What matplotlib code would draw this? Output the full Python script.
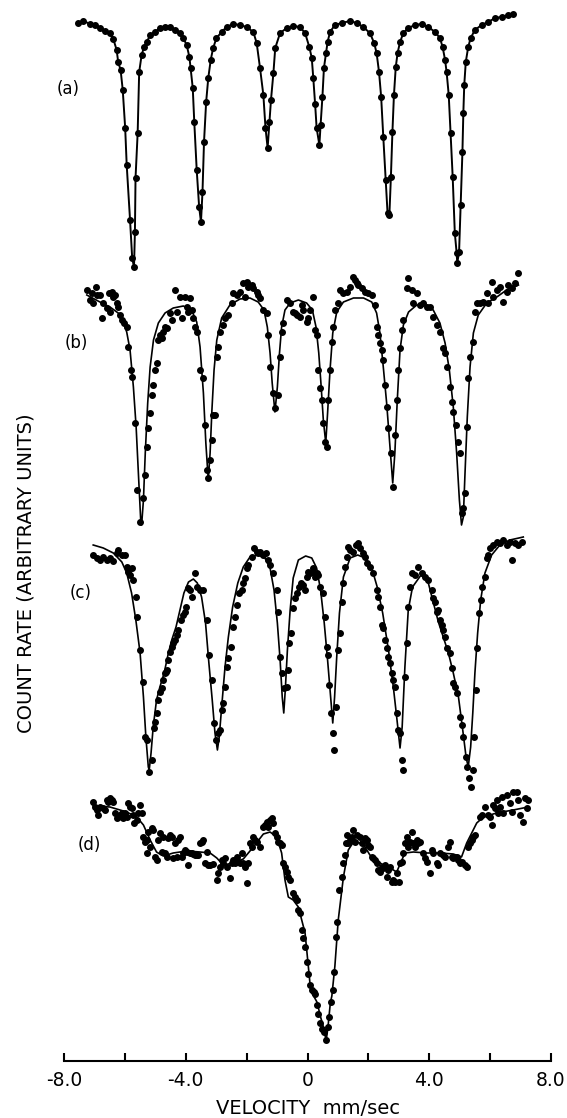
import numpy as np
import matplotlib
matplotlib.use("Agg")
import matplotlib.pyplot as plt

# Mossbauer spectra, velocity in mm/sec, count rate in arbitrary units
# (each spectrum carries its own vertical offset in the counts)

a_points = [(-7.53,1039),(-7.36,1041),(-7.14,1038),(-6.98,1037),(-6.82,1034),(-6.65,1031),(-6.49,1029),
            (-6.38,1023),(-6.27,1012),(-6.22,1000),(-6.14,992),(-6.07,972),(-5.99,934),(-5.94,897),
            (-5.83,842),(-5.76,804),(-5.70,795),(-5.67,830),(-5.65,884),(-5.58,929),(-5.53,990),
            (-5.45,1007),(-5.37,1015),(-5.28,1020),(-5.17,1027),(-5.01,1030),(-4.85,1034),(-4.68,1035),
            (-4.52,1035),(-4.35,1032),(-4.19,1029),(-4.08,1024),(-3.97,1017),(-3.88,1005),(-3.84,994),
            (-3.77,974),(-3.72,940),(-3.64,892),(-3.56,855),(-3.50,840),(-3.45,870),(-3.40,920),
            (-3.33,960),(-3.26,984),(-3.18,1002),(-3.10,1014),(-2.99,1024),(-2.82,1030),(-2.66,1035),
            (-2.44,1038),(-2.22,1037),(-2.00,1035),(-1.78,1030),(-1.67,1019),(-1.56,994),(-1.45,967),
            (-1.38,934),(-1.31,914),(-1.25,940),(-1.20,962),(-1.12,989),(-1.06,1014),(-0.90,1029),
            (-0.68,1034),(-0.47,1036),(-0.25,1035),(-0.08,1029),(0.06,1015),(0.14,1004),(0.19,984),
            (0.25,958),(0.30,934),(0.39,917),(0.43,937),(0.49,965),(0.54,994),(0.61,1009),(0.66,1020),
            (0.74,1030),(0.90,1037),(1.12,1039),(1.40,1041),(1.62,1039),(1.83,1035),(2.05,1029),
            (2.19,1019),(2.27,1009),(2.35,990),(2.42,965),(2.49,925),(2.57,882),(2.63,849),(2.69,847),
            (2.74,885),(2.79,930),(2.84,967),(2.90,995),(2.96,1009),(3.04,1020),(3.15,1029),(3.31,1034),
            (3.53,1037),(3.75,1038),(3.97,1035),(4.19,1030),(4.35,1024),(4.44,1015),(4.52,1002),
            (4.57,990),(4.64,967),(4.70,929),(4.77,885),(4.84,829),(4.90,809),(4.92,799),(4.98,810),
            (5.03,857),(5.09,910),(5.12,949),(5.15,977),(5.20,1000),(5.28,1015),(5.36,1024),(5.50,1032),
            (5.72,1037),(5.94,1040),(6.16,1044),(6.38,1045),(6.60,1047),(6.76,1048)]

b_points = [(-7.25,772),(-7.14,762),(-7.09,769),(-7.04,759),(-6.95,775),(-6.90,767),(-6.82,767),(-6.76,744),
            (-6.71,759),(-6.60,754),(-6.51,769),(-6.49,750),(-6.43,770),(-6.38,765),(-6.32,767),(-6.27,759),
            (-6.21,755),(-6.16,747),(-6.10,742),(-6.03,739),(-5.94,735),(-5.89,715),(-5.81,692),(-5.78,685),
            (-5.67,639),(-5.59,572),(-5.50,540),(-5.42,564),(-5.34,587),(-5.26,615),(-5.23,634),(-5.17,649),
            (-5.12,667),(-5.09,677),(-5.01,692),(-4.96,699),(-4.90,722),(-4.85,727),(-4.79,724),(-4.74,730),
            (-4.68,735),(-4.63,734),(-4.52,749),(-4.46,742),(-4.35,772),(-4.30,750),(-4.19,765),(-4.13,744),
            (-4.02,765),(-3.97,755),(-3.92,750),(-3.86,764),(-3.81,752),(-3.75,744),(-3.70,735),(-3.64,730),
            (-3.53,692),(-3.42,684),(-3.37,637),(-3.31,592),(-3.26,584),(-3.20,602),(-3.15,622),(-3.09,647),
            (-3.04,647),(-2.98,705),(-2.93,715),(-2.87,730),(-2.79,737),(-2.71,744),(-2.60,747),(-2.49,759),
            (-2.44,769),(-2.33,767),(-2.22,770),(-2.11,779),(-2.05,765),(-2.00,780),(-1.95,775),(-1.83,777),
            (-1.78,774),(-1.67,770),(-1.62,767),(-1.56,764),(-1.45,752),(-1.34,749),(-1.29,727),(-1.23,695),
            (-1.12,669),(-1.07,654),(-0.96,667),(-0.90,705),(-0.85,730),(-0.79,739),(-0.68,762),(-0.57,759),
            (-0.47,750),(-0.41,749),(-0.36,747),(-0.25,745),(-0.19,757),(-0.14,752),(-0.03,740),(0.03,744),
            (0.08,752),(0.19,765),(0.25,732),(0.30,727),(0.36,692),(0.41,674),(0.47,662),(0.52,639),
            (0.57,620),(0.63,615),(0.68,662),(0.74,692),(0.79,720),(0.85,735),(0.90,752),(1.01,759),
            (1.07,772),(1.18,769),(1.29,770),(1.40,775),(1.51,785),(1.56,782),(1.62,779),(1.67,777),
            (1.78,774),(1.89,770),(2.00,769),(2.11,767),(2.22,757),(2.27,735),(2.33,727),(2.38,719),
            (2.44,712),(2.49,702),(2.55,677),(2.60,655),(2.66,634),(2.73,609),(2.80,575),(2.87,627),
            (2.93,662),(2.98,692),(3.04,714),(3.09,732),(3.15,742),(3.26,774),(3.31,784),(3.42,772),
            (3.48,759),(3.59,769),(3.70,757),(3.81,759),(3.91,755),(4.02,755),(4.13,745),(4.24,737),
            (4.35,730),(4.46,714),(4.52,709),(4.57,695),(4.68,675),(4.74,660),(4.79,650),(4.88,637),
            (4.96,620),(5.01,609),(5.06,549),(5.12,554),(5.17,569),(5.23,635),(5.28,684),(5.34,705),
            (5.45,720),(5.50,750),(5.56,759),(5.67,759),(5.78,760),(5.89,769),(5.94,759),(6.05,780),
            (6.10,765),(6.21,772),(6.32,775),(6.43,760),(6.54,770),(6.60,777),(6.71,774),(6.82,779),
            (6.93,789)]

b_fit = [(-7.25,767),(-6.82,760),(-6.49,755),(-6.22,749),(-6.05,740),(-5.94,730),(-5.83,712),(-5.72,675),
         (-5.63,635),(-5.55,585),(-5.48,542),(-5.45,537),(-5.39,562),(-5.33,609),(-5.25,659),(-5.17,695),
         (-5.06,722),(-4.90,739),(-4.68,749),(-4.41,754),(-4.08,756),(-3.81,752),(-3.64,740),(-3.53,715),
         (-3.42,669),(-3.34,619),(-3.26,582),(-3.20,609),(-3.14,652),(-3.07,692),(-2.98,722),(-2.82,744),
         (-2.55,757),(-2.22,763),(-1.89,764),(-1.62,760),(-1.43,752),(-1.32,735),(-1.23,709),(-1.16,679),
         (-1.07,650),(-0.99,675),(-0.92,709),(-0.85,735),(-0.74,752),(-0.57,759),(-0.30,762),(-0.03,759),
         (0.16,752),(0.28,735),(0.37,709),(0.45,675),(0.52,642),(0.60,619),(0.66,649),(0.74,692),
         (0.83,729),(0.96,750),(1.18,760),(1.51,764),(1.84,764),(2.11,760),(2.27,749),(2.38,729),
         (2.49,695),(2.60,659),(2.71,615),(2.80,579),(2.87,609),(2.95,662),(3.04,712),(3.15,737),
         (3.32,750),(3.59,757),(3.86,757),(4.13,752),(4.35,739),(4.52,719),(4.66,692),(4.79,655),
         (4.90,609),(4.99,562),(5.06,537),(5.12,545),(5.17,585),(5.25,645),(5.34,695),(5.45,729),
         (5.61,747),(5.89,759),(6.22,765),(6.54,772),(6.93,777)]

c_points = [(-7.04,507),(-6.93,504),(-6.82,502),(-6.71,505),(-6.60,502),(-6.49,504),(-6.38,501),(-6.27,509),
            (-6.21,512),(-6.10,507),(-6.00,507),(-5.94,495),(-5.89,490),(-5.83,487),(-5.78,494),(-5.72,482),
            (-5.63,465),(-5.59,445),(-5.50,412),(-5.41,380),(-5.34,325),(-5.26,322),(-5.20,290),(-5.12,302),
            (-5.04,334),(-5.01,340),(-4.96,349),(-4.90,362),(-4.85,370),(-4.79,374),(-4.74,382),(-4.68,389),
            (-4.65,390),(-4.60,392),(-4.57,402),(-4.52,410),(-4.46,415),(-4.41,419),(-4.35,422),(-4.30,427),
            (-4.24,432),(-4.17,442),(-4.10,447),(-4.02,450),(-3.99,455),(-3.91,474),(-3.86,472),(-3.81,465),
            (-3.70,489),(-3.62,475),(-3.53,472),(-3.42,472),(-3.31,442),(-3.22,407),(-3.15,382),(-3.07,339),
            (-3.01,322),(-2.93,329),(-2.87,332),(-2.82,352),(-2.76,359),(-2.71,375),(-2.66,395),(-2.60,404),
            (-2.52,415),(-2.44,435),(-2.38,445),(-2.33,457),(-2.24,469),(-2.16,472),(-2.11,479),(-2.05,484),
            (-2.00,494),(-1.95,497),(-1.83,505),(-1.76,514),(-1.67,510),(-1.62,509),(-1.56,510),(-1.45,507),
            (-1.36,509),(-1.29,502),(-1.23,497),(-1.12,489),(-1.01,472),(-0.96,450),(-0.90,405),(-0.85,389),
            (-0.77,374),(-0.68,375),(-0.63,392),(-0.60,419),(-0.55,429),(-0.47,454),(-0.41,464),(-0.33,469),
            (-0.27,475),(-0.22,479),(-0.16,477),(-0.08,472),(-0.03,485),(0.03,490),(0.08,489),(0.14,490),
            (0.19,494),(0.25,485),(0.30,489),(0.36,487),(0.41,475),(0.52,469),(0.57,445),(0.63,415),
            (0.68,407),(0.72,377),(0.76,349),(0.83,329),(0.87,312),(0.94,355),(1.01,412),(1.07,429),
            (1.12,460),(1.18,479),(1.23,495),(1.29,505),(1.34,515),(1.40,512),(1.51,510),(1.59,517),
            (1.67,519),(1.72,514),(1.83,509),(1.89,505),(1.94,499),(2.05,495),(2.16,489),(2.27,472),
            (2.33,465),(2.38,455),(2.44,437),(2.49,434),(2.55,422),(2.60,414),(2.66,405),(2.71,399),
            (2.77,389),(2.82,382),(2.87,375),(2.93,349),(2.98,332),(3.04,329),(3.09,302),(3.13,292),
            (3.20,385),(3.26,419),(3.31,455),(3.37,475),(3.42,489),(3.53,487),(3.64,495),(3.75,489),
            (3.86,485),(3.97,482),(4.08,472),(4.13,464),(4.19,460),(4.24,450),(4.30,452),(4.35,442),
            (4.41,437),(4.46,432),(4.52,425),(4.57,414),(4.68,409),(4.74,394),(4.79,379),(4.85,375),
            (4.90,369),(5.01,345),(5.06,337),(5.12,325),(5.21,305),(5.25,295),(5.32,284),(5.36,275),
            (5.43,292),(5.47,325),(5.54,372),(5.58,414),(5.62,449),(5.69,462),(5.72,475),(5.83,485),
            (5.89,504),(5.94,507),(6.00,514),(6.10,517),(6.21,520),(6.32,519),(6.43,522),(6.54,517),
            (6.65,520),(6.71,502),(6.82,519),(6.93,517),(7.04,520)]

c_fit = [(-7.04,517),(-6.71,514),(-6.38,509),(-6.10,500),(-5.94,489),(-5.78,469),(-5.64,442),(-5.50,409),
         (-5.39,365),(-5.31,325),(-5.23,295),(-5.20,292),(-5.14,309),(-5.07,335),(-4.96,362),(-4.85,375),
         (-4.71,389),(-4.57,409),(-4.46,422),(-4.32,435),(-4.19,452),(-4.06,469),(-3.91,480),(-3.75,483),
         (-3.62,479),(-3.48,465),(-3.35,439),(-3.24,399),(-3.13,362),(-3.04,329),(-2.96,312),(-2.90,325),
         (-2.82,355),(-2.71,395),(-2.60,425),(-2.46,455),(-2.29,479),(-2.11,495),(-1.89,505),(-1.62,507),
         (-1.40,504),(-1.23,494),(-1.10,472),(-0.99,439),(-0.90,402),(-0.83,365),(-0.78,349),(-0.73,372),
         (-0.66,412),(-0.57,452),(-0.47,484),(-0.30,502),(-0.06,506),(0.14,504),(0.30,494),(0.43,472),
         (0.55,439),(0.66,402),(0.76,365),(0.83,339),(0.89,365),(0.96,405),(1.05,449),(1.18,485),
         (1.40,504),(1.65,507),(1.89,504),(2.11,494),(2.29,475),(2.47,449),(2.66,412),(2.82,375),
         (2.93,345),(3.04,314),(3.11,335),(3.20,395),(3.31,452),(3.45,475),(3.73,487),(3.97,479),
         (4.13,460),(4.30,440),(4.46,425),(4.63,409),(4.79,389),(4.96,365),(5.10,332),(5.21,305),
         (5.28,295),(5.36,315),(5.43,349),(5.50,389),(5.59,429),(5.69,462),(5.83,489),(6.05,507),
         (6.32,517),(6.65,522),(7.09,525)]

d_points = [(-7.04,260),(-6.98,255),(-6.93,252),(-6.87,247),(-6.82,255),(-6.71,254),(-6.65,252),(-6.60,262),
            (-6.54,260),(-6.49,264),(-6.43,262),(-6.38,260),(-6.32,249),(-6.27,244),(-6.21,245),(-6.16,247),
            (-6.10,249),(-6.05,244),(-6.00,249),(-5.94,245),(-5.89,259),(-5.83,255),(-5.78,254),(-5.72,247),
            (-5.69,239),(-5.61,242),(-5.56,249),(-5.50,257),(-5.45,249),(-5.39,225),(-5.34,220),(-5.28,222),
            (-5.28,209),(-5.23,230),(-5.17,215),(-5.12,234),(-5.06,232),(-5.01,205),(-4.96,202),(-4.90,222),
            (-4.85,229),(-4.79,210),(-4.74,225),(-4.68,209),(-4.63,205),(-4.57,224),(-4.52,227),(-4.46,225),
            (-4.41,204),(-4.35,219),(-4.30,205),(-4.24,222),(-4.19,225),(-4.13,205),(-4.08,209),(-4.02,212),
            (-3.97,210),(-3.92,197),(-3.86,209),(-3.81,209),(-3.75,208),(-3.70,207),(-3.64,207),(-3.59,207),
            (-3.53,219),(-3.48,220),(-3.42,222),(-3.37,199),(-3.31,210),(-3.26,197),(-3.20,197),(-3.09,198),
            (-2.98,182),(-2.93,189),(-2.87,195),(-2.82,202),(-2.76,199),(-2.71,204),(-2.66,195),(-2.55,184),
            (-2.49,199),(-2.44,202),(-2.38,199),(-2.33,205),(-2.27,200),(-2.22,199),(-2.16,209),(-2.11,199),
            (-2.05,195),(-2.00,179),(-1.94,199),(-1.89,219),(-1.83,215),(-1.78,225),(-1.72,222),(-1.67,220),
            (-1.56,215),(-1.45,235),(-1.40,237),(-1.34,240),(-1.29,235),(-1.23,242),(-1.18,244),(-1.12,239),
            (-1.07,229),(-1.01,225),(-0.96,220),(-0.90,219),(-0.85,217),(-0.79,199),(-0.74,195),(-0.68,190),
            (-0.63,185),(-0.57,182),(-0.47,169),(-0.41,165),(-0.36,162),(-0.30,152),(-0.25,149),(-0.19,132),
            (-0.14,124),(-0.08,115),(-0.03,100),(0.03,88),(0.08,77),(0.14,72),(0.20,70),(0.25,68),
            (0.30,57),(0.36,48),(0.41,39),(0.47,33),(0.54,30),(0.61,22),(0.66,35),(0.72,45),
            (0.78,60),(0.83,72),(0.88,90),(0.94,125),(0.98,140),(1.05,172),(1.12,185),(1.16,199),
            (1.23,207),(1.27,219),(1.29,227),(1.34,219),(1.40,222),(1.45,225),(1.51,232),(1.56,220),
            (1.62,227),(1.72,225),(1.78,219),(1.83,212),(1.89,224),(1.94,222),(2.00,217),(2.05,215),
            (2.11,205),(2.16,204),(2.22,202),(2.27,199),(2.33,192),(2.38,190),(2.44,195),(2.49,194),
            (2.55,197),(2.60,185),(2.66,192),(2.71,195),(2.77,180),(2.82,182),(2.88,180),(2.93,189),
            (2.99,180),(3.04,199),(3.09,200),(3.15,209),(3.20,219),(3.26,225),(3.31,215),(3.37,220),
            (3.42,230),(3.48,219),(3.53,215),(3.59,222),(3.64,219),(3.70,220),(3.81,209),(3.86,204),
            (3.91,200),(4.02,189),(4.08,212),(4.13,209),(4.24,199),(4.30,197),(4.35,209),(4.46,207),
            (4.52,205),(4.63,215),(4.68,220),(4.74,205),(4.79,204),(4.85,205),(4.90,205),(4.96,202),
            (5.01,199),(5.06,200),(5.17,197),(5.23,195),(5.28,215),(5.34,219),(5.39,222),(5.45,225),
            (5.50,227),(5.67,245),(5.72,247),(5.83,255),(5.94,247),(6.00,245),(6.05,237),(6.10,257),
            (6.16,254),(6.21,262),(6.27,249),(6.32,255),(6.38,265),(6.43,249),(6.54,267),(6.65,259),
            (6.71,250),(6.76,270),(6.87,270),(6.93,262),(6.98,247),(7.09,240),(7.15,264),(7.20,254),
            (7.25,262)]

d_fit = [(-7.04,256),(-6.49,255),(-5.94,250),(-5.61,245),(-5.39,237),(-5.17,222),(-4.96,210),(-4.74,206),
         (-4.41,209),(-3.97,211),(-3.53,210),(-3.20,209),(-2.98,204),(-2.77,197),(-2.44,199),(-2.11,203),
         (-1.78,215),(-1.45,228),(-1.23,230),(-1.01,225),(-0.85,209),(-0.74,182),(-0.63,165),(-0.47,162),
         (-0.30,155),(-0.08,129),(0.08,79),(0.13,70),(0.31,60),(0.43,45),(0.55,32),(0.61,21),
         (0.67,34),(0.75,59),(0.80,66),(0.90,96),(1.01,142),(1.18,185),(1.34,212),(1.51,220),
         (1.72,219),(1.89,215),(2.05,207),(2.38,199),(2.71,194),(2.93,190),(3.20,209),(3.48,210),
         (3.91,209),(4.35,209),(4.79,208),(5.06,205),(5.23,219),(5.56,239),(5.78,245),(6.21,249),
         (6.76,252),(7.25,255)]

panel_labels = ["(a)", "(b)", "(c)", "(d)"]
panel_label_pos = [(-7.85, 973), (-7.61, 719), (-7.46, 469), (-7.18, 217)]

major_ticks = [-8, -4, 0, 4, 8]
major_labels = ["-8.0", "-4.0", "0", "4.0", "8.0"]
minor_ticks = [-6, -2, 2, 6]

W, H = 567, 1118
fig = plt.figure(figsize=(W / 100, H / 100), dpi=100)
ax = fig.add_axes([64 / W, 57 / H, 487 / W, 1061 / H])

dot = dict(marker="o", ms=4.0, color="black", mec="black", linestyle="none")

av, ay = np.array(a_points).T
ax.plot(av, ay, "-", color="black", lw=1.4)
ax.plot(av, ay, **dot)

for pts, fit in [(b_points, b_fit), (c_points, c_fit), (d_points, d_fit)]:
    fv, fy = np.array(fit).T
    ax.plot(fv, fy, "-", color="black", lw=1.2)
    pv, py = np.array(pts).T
    ax.plot(pv, py, **dot)

for lab, (x, y) in zip(panel_labels, panel_label_pos):
    ax.text(x, y, lab, ha="center", va="center", fontsize=12, color="black")

ax.set_xlim(-8, 8)
ax.set_ylim(1, 1062)
for s in ["left", "right", "top"]:
    ax.spines[s].set_visible(False)
ax.spines["bottom"].set_linewidth(1.5)

ax.set_xticks(major_ticks)
ax.set_xticklabels(major_labels)
ax.set_xticks(minor_ticks, minor=True)
ax.tick_params(axis="x", which="both", direction="in", length=6, width=1.5,
               labelsize=13.5, pad=7.5)
ax.set_yticks([])

ax.set_xlabel("VELOCITY  mm/sec", fontsize=14)
ax.xaxis.set_label_coords(0.501, -0.0443)
ax.xaxis.label.set_va("center")

ax.set_ylabel("COUNT RATE (ARBITRARY UNITS)", fontsize=14)
ax.yaxis.set_label_coords(-0.078, 0.46)
ax.yaxis.label.set_va("center")

fig.savefig("out.png", dpi=100)
